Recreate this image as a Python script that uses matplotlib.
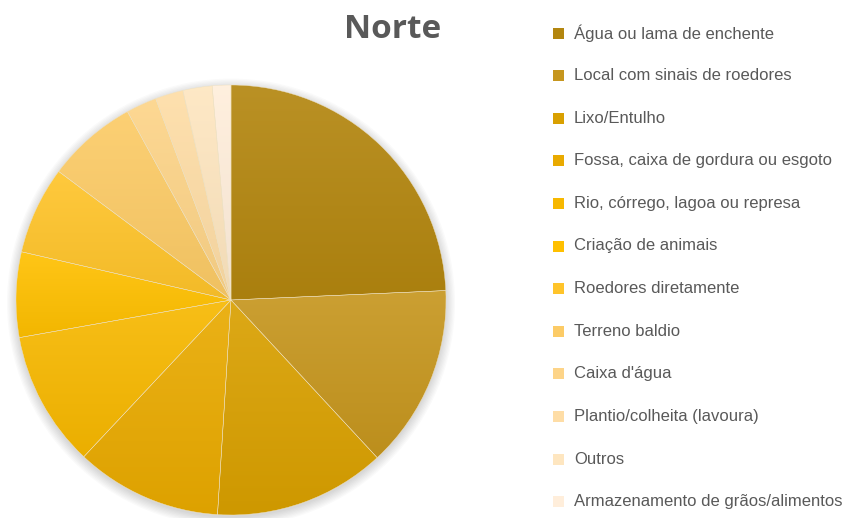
import numpy as np
import matplotlib
matplotlib.use('Agg')
import matplotlib.pyplot as plt
from matplotlib.colors import to_rgb
from matplotlib.patches import Rectangle

#data (share of each source, %)
categories = ['Água ou lama de enchente', 'Local com sinais de roedores',
              'Lixo/Entulho', 'Fossa, caixa de gordura ou esgoto',
              'Rio, córrego, lagoa ou represa', 'Criação de animais',
              'Roedores diretamente', 'Terreno baldio', "Caixa d'água",
              'Plantio/colheita (lavoura)', 'Outros',
              'Armazenamento de grãos/alimentos']
values = [24.3, 13.8, 12.9, 11.0, 10.2, 6.4, 6.6, 6.8, 2.3, 2.1, 2.2, 1.4]
colors = ['#B3860F', '#C6961E', '#D9A000', '#E9AA00', '#F7B800', '#FFC000',
          '#FFC42A', '#FCCB66', '#FDD488', '#FEDDA6', '#FEE6C0', '#FFEEDB']
title = 'Norte'

W, H = 852, 518
fig = plt.figure(figsize=(W/100, H/100), dpi=100)
fig.patch.set_facecolor('white')

#pie axes: center (231,300) px, radius 215 px
cx, cy, r = 231, 300, 215
ax = fig.add_axes([(cx-r)/W, (H-cy-r)/H, 2*r/W, 2*r/H])

#soft shadow under the pie
for k in range(8):
    s = plt.Circle((0.0, -0.012), 1.0 + 0.006*k, color='#000000',
                   alpha=0.02, lw=0, zorder=0, clip_on=False)
    ax.add_patch(s)

wedges, _ = ax.pie(values, colors=colors, startangle=90, counterclock=False,
                   radius=1.0, wedgeprops=dict(edgecolor='#f0e2c0', linewidth=0.3))

#vertical gradient inside each wedge (lighter top, darker bottom)
for w, c in zip(wedges, colors):
    base = np.array(to_rgb(c))
    top = base + (1 - base)*0.09
    bot = base*0.95
    bb = w.get_path().get_extents(w.get_transform() + ax.transData.inverted())
    t = np.linspace(0, 1, 64)[:, None]
    grad = top[None, :]*(1 - t) + bot[None, :]*t
    img = ax.imshow(grad[:, None, :], extent=[bb.x0, bb.x1, bb.y0, bb.y1],
                    aspect='auto', interpolation='bilinear', zorder=1)
    img.set_clip_path(w)
    w.set_zorder(2)
    w.set_facecolor('none')

ax.set_xlim(-1, 1)
ax.set_ylim(-1, 1)
ax.axis('off')

fig.text(393/W, 1 - 29/H, title, ha='center', va='center', fontsize=24,
         fontweight='bold', color='#595959', family=['Open Sans', 'DejaVu Sans'])

#legend, one row every 42.6 px
y0, dy = 33, 42.6
for i, (lab, c) in enumerate(zip(categories, colors)):
    y = y0 + i*dy
    fig.patches.append(Rectangle((553/W, 1 - (y + 5.5)/H), 11/W, 11/H,
                                 transform=fig.transFigure, facecolor=c,
                                 edgecolor='none'))
    fig.text(574/W, 1 - y/H, lab, ha='left', va='center', fontsize=12,
             color='#595959', family=['Liberation Sans', 'DejaVu Sans'])

fig.savefig('out.png', dpi=100)
